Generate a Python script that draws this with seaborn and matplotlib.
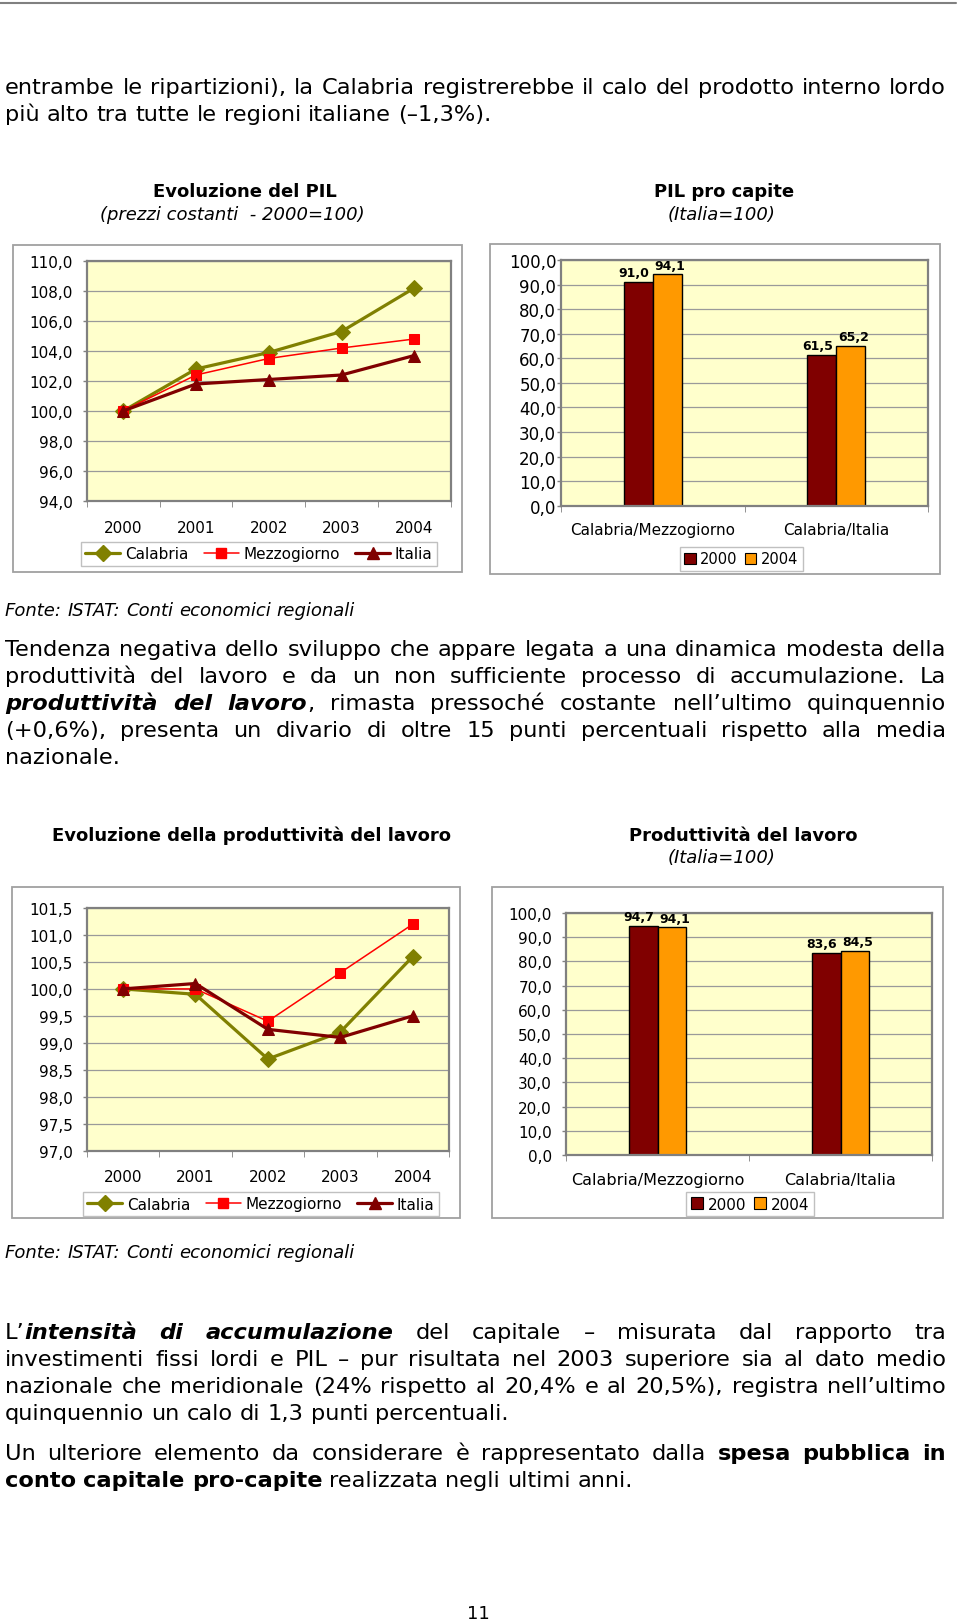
"""Pagina del rapporto: PIL e produttività del lavoro in Calabria."""

import matplotlib
matplotlib.use("Agg")
import matplotlib.pyplot as plt
import pandas as pd
import seaborn as sns
from matplotlib.lines import Line2D
from matplotlib.patches import Patch, Rectangle
from matplotlib.ticker import FuncFormatter

sns.set_style("white")
plt.rcParams["font.family"] = ["DejaVu Sans"]
plt.rcParams["text.color"] = "black"
plt.rcParams["xtick.color"] = "black"
plt.rcParams["ytick.color"] = "black"

# --- data ---
years = [2000, 2001, 2002, 2003, 2004]
pil_calabria = [100.0, 102.8, 103.9, 105.3, 108.2]
pil_mezzogiorno = [100.0, 102.4, 103.5, 104.2, 104.8]
pil_italia = [100.0, 101.8, 102.1, 102.4, 103.7]

prod_calabria = [100.0, 99.9, 98.7, 99.2, 100.6]
prod_mezzogiorno = [100.0, 100.0, 99.4, 100.3, 101.2]
prod_italia = [100.0, 100.1, 99.25, 99.1, 99.5]

ratios = ["Calabria/Mezzogiorno", "Calabria/Italia"]
bar_years = ["2000", "2004"]
pil_pc_2000 = [91.0, 61.5]
pil_pc_2004 = [94.1, 65.2]
prod_lav_2000 = [94.7, 83.6]
prod_lav_2004 = [94.1, 84.5]

pil_ticks = [94, 96, 98, 100, 102, 104, 106, 108, 110]
prod_ticks = [97.0, 97.5, 98.0, 98.5, 99.0, 99.5, 100.0, 100.5, 101.0, 101.5]
pct_ticks = [0, 10, 20, 30, 40, 50, 60, 70, 80, 90, 100]

SERIES = {
    "Calabria": dict(color="#808000", marker="D", ms=8.5, lw=2.3),
    "Mezzogiorno": dict(color="#FF0000", marker="s", ms=7.5, lw=1.1),
    "Italia": dict(color="#800000", marker="^", ms=9, lw=2.3),
}
BAR_COLORS = {"2000": "#800000", "2004": "#FF9900"}
BG = "#FFFFCC"
BODY = 16.2

W, H = 960, 1624
fig = plt.figure(figsize=(W / 100, H / 100), dpi=100)
renderer = fig.canvas.get_renderer()


def fx(x):
    return x / W


def fy(y):
    return 1 - y / H


def px_rect(x0, y0, x1, y1):
    return [fx(x0), fy(y1), (x1 - x0) / W, (y1 - y0) / H]


def comma(v, _=None):
    return f"{v:.1f}".replace(".", ",")


def frame(x0, y0, x1, y1):
    fig.add_artist(Rectangle((fx(x0), fy(y1)), (x1 - x0) / W, (y1 - y0) / H,
                             transform=fig.transFigure, fill=False,
                             edgecolor="#a0a0a0", lw=1.3))


def style_axes(ax, ylab_size, ypad):
    ax.set_facecolor(BG)
    for sp in ax.spines.values():
        sp.set_color("#808080")
        sp.set_linewidth(1.6)
    ax.yaxis.grid(True, color="#9a9a9a", lw=0.9)
    ax.set_axisbelow(True)
    ax.yaxis.set_major_formatter(FuncFormatter(comma))
    ax.tick_params(axis="y", left=True, length=3, width=1, color="#808080",
                   labelcolor="black", pad=ypad, labelsize=ylab_size)
    ax.set_xlabel("")
    ax.set_ylabel("")


def line_chart(plot_box, series, yticks, legend_xy, xpad):
    ax = fig.add_axes(px_rect(*plot_box))
    for name, vals in series.items():
        st = SERIES[name]
        sns.lineplot(x=years, y=vals, ax=ax, color=st["color"], marker=st["marker"],
                     markersize=st["ms"], linewidth=st["lw"],
                     markeredgecolor=st["color"], legend=False)
    ax.set_xlim(years[0] - 0.5, years[-1] + 0.5)
    ax.set_ylim(yticks[0], yticks[-1])
    ax.set_yticks(yticks)
    ax.set_xticks(years, [str(y) for y in years])
    ax.set_xticks([y - 0.5 for y in years] + [years[-1] + 0.5], minor=True)
    style_axes(ax, 11, 7)
    ax.tick_params(axis="x", which="major", length=0, pad=xpad, labelsize=11, labelcolor="black")
    ax.tick_params(axis="x", which="minor", bottom=True, length=4, color="#808080")
    handles = [Line2D([], [], color=SERIES[n]["color"], marker=SERIES[n]["marker"],
                      markersize=SERIES[n]["ms"], lw=SERIES[n]["lw"], label=n)
               for n in series]
    leg = fig.legend(handles=handles, loc="center", bbox_to_anchor=(fx(legend_xy[0]), fy(legend_xy[1])),
                     ncol=3, fontsize=11, frameon=True, fancybox=False, framealpha=1,
                     edgecolor="#c0c0c0", handlelength=2.3, handletextpad=0.3,
                     columnspacing=1.0, borderpad=0.3, labelcolor="black")
    leg.get_frame().set_linewidth(1)
    return ax


def bar_chart(plot_box, v2000, v2004, legend_xy, ylab_size, ypad, xlab_size, leg_size):
    ax = fig.add_axes(px_rect(*plot_box))
    df = pd.DataFrame({
        "rapporto": ratios * 2,
        "anno": [bar_years[0]] * len(ratios) + [bar_years[1]] * len(ratios),
        "valore": v2000 + v2004,
    })
    sns.barplot(data=df, x="rapporto", y="valore", hue="anno", palette=BAR_COLORS,
                width=0.315, edgecolor="black", linewidth=1, saturation=1,
                errorbar=None, legend=False, ax=ax)
    for cont, dx in zip(ax.containers, [-3, 2]):
        for bar, v in zip(cont, cont.datavalues):
            ax.annotate(comma(v), (bar.get_x() + bar.get_width() / 2, bar.get_height()),
                        xytext=(dx, 2), textcoords="offset points", ha="center", va="bottom",
                        fontsize=9, fontweight="bold", color="black")
    ax.set_xlim(-0.5, len(ratios) - 0.5)
    ax.set_ylim(pct_ticks[0], pct_ticks[-1])
    ax.set_yticks(pct_ticks)
    ax.set_xticks([i - 0.5 for i in range(len(ratios) + 1)], minor=True)
    style_axes(ax, ylab_size, ypad)
    ax.tick_params(axis="x", which="major", length=0, pad=12, labelsize=xlab_size, labelcolor="black")
    ax.tick_params(axis="x", which="minor", bottom=True, length=4, color="#808080")
    handles = [Patch(facecolor=BAR_COLORS[y], edgecolor="black", lw=0.8, label=y) for y in bar_years]
    leg = fig.legend(handles=handles, loc="center", bbox_to_anchor=(fx(legend_xy[0]), fy(legend_xy[1])),
                     ncol=2, fontsize=leg_size, frameon=True, fancybox=False, framealpha=1,
                     edgecolor="#c0c0c0", handlelength=0.8, handleheight=0.8,
                     handletextpad=0.3, columnspacing=0.5, borderpad=0.3, labelcolor="black")
    leg.get_frame().set_linewidth(1)
    return ax


# --- justified body text ---
STYLES = {"r": {}, "b": dict(fontweight="bold"), "i": dict(fontstyle="italic"),
          "bi": dict(fontweight="bold", fontstyle="italic")}


def measure(s, style, size):
    t = fig.text(0, 0, s, fontsize=size, **STYLES[style])
    w = t.get_window_extent(renderer=renderer).width
    t.remove()
    return w


def tokenize(segments):
    words = [[]]
    for text, style in segments:
        for i, part in enumerate(text.split(" ")):
            if i > 0:
                words.append([])
            if part:
                words[-1].append((part, style))
    return [w for w in words if w]


def text_line(segments, yc, justify=True, size=BODY, x0=5, x1=946):
    words = tokenize(segments)
    widths = [sum(measure(p, s, size) for p, s in w) for w in words]
    space = measure("a a", "r", size) - measure("aa", "r", size)
    gap = (x1 - x0 - sum(widths)) / (len(words) - 1) if justify and len(words) > 1 else space
    base = yc + 0.36 * size * 100 / 72
    x = x0
    for w, wd in zip(words, widths):
        xx = x
        for p, s in w:
            fig.text(fx(xx), fy(base), p, fontsize=size, ha="left", va="baseline",
                     color="black", **STYLES[s])
            xx += measure(p, s, size)
        x += wd + gap


fig.add_artist(Line2D([0, fx(956)], [fy(4), fy(4)], transform=fig.transFigure,
                      color="#808080", lw=1.5))

text_line([("entrambe le ripartizioni), la Calabria registrerebbe il calo del prodotto interno lordo", "r")], 86)
text_line([("più alto tra tutte le regioni italiane (–1,3%).", "r")], 113, justify=False)

# --- top charts ---
fig.text(fx(245), fy(192), "Evoluzione del PIL", fontsize=13, fontweight="bold", ha="center", va="center")
fig.text(fx(232), fy(215), "(prezzi costanti  - 2000=100)", fontsize=13, fontstyle="italic",
         ha="center", va="center")
fig.text(fx(724), fy(192), "PIL pro capite", fontsize=13, fontweight="bold", ha="center", va="center")
fig.text(fx(722), fy(215), "(Italia=100)", fontsize=13, fontstyle="italic", ha="center", va="center")

frame(12.7, 246, 462, 573)
line_chart((86.7, 262, 450.7, 502),
           {"Calabria": pil_calabria, "Mezzogiorno": pil_mezzogiorno, "Italia": pil_italia},
           pil_ticks, (259, 555), 13.5)

frame(490, 245, 940, 575)
bar_chart((561, 261, 928, 506.7), pil_pc_2000, pil_pc_2004, (741, 560), 12, 0.5, 11, 10.5)

text_line([("Fonte: ISTAT: Conti economici regionali", "i")], 610, justify=False, size=13)

text_line([("Tendenza negativa dello sviluppo che appare legata a una dinamica modesta della", "r")], 648)
text_line([("produttività del lavoro e da un non sufficiente processo di accumulazione. La", "r")], 675)
text_line([("produttività del lavoro", "bi"),
           (", rimasta pressoché costante nell’ultimo quinquennio", "r")], 702)
text_line([("(+0,6%), presenta un divario di oltre 15 punti percentuali rispetto alla media", "r")], 729)
text_line([("nazionale.", "r")], 756, justify=False)

# --- bottom charts ---
fig.text(fx(251), fy(836), "Evoluzione della produttività del lavoro", fontsize=13, fontweight="bold",
         ha="center", va="center")
fig.text(fx(743), fy(836), "Produttività del lavoro", fontsize=13, fontweight="bold",
         ha="center", va="center")
fig.text(fx(722), fy(858), "(Italia=100)", fontsize=13, fontstyle="italic", ha="center", va="center")

frame(11.7, 888, 460, 1219)
line_chart((86.7, 909, 449, 1151.7),
           {"Calabria": prod_calabria, "Mezzogiorno": prod_mezzogiorno, "Italia": prod_italia},
           prod_ticks, (261, 1205), 13)

frame(491.7, 888, 943, 1219)
bar_chart((566, 914, 932, 1156), prod_lav_2000, prod_lav_2004, (750, 1205), 11, 7, 11.5, 11)

text_line([("Fonte: ISTAT: Conti economici regionali", "i")], 1252, justify=False, size=13)

text_line([("L’", "r"), ("intensità di accumulazione", "bi"),
           (" del capitale – misurata dal rapporto tra", "r")], 1331)
text_line([("investimenti fissi lordi e PIL – pur risultata nel 2003 superiore sia al dato medio", "r")], 1358)
text_line([("nazionale che meridionale (24% rispetto al 20,4% e al 20,5%), registra nell’ultimo", "r")], 1385)
text_line([("quinquennio un calo di 1,3 punti percentuali.", "r")], 1412, justify=False)

text_line([("Un ulteriore elemento da considerare è rappresentato dalla ", "r"),
           ("spesa pubblica in", "b")], 1452)
text_line([("conto capitale pro-capite", "b"), (" realizzata negli ultimi anni.", "r")], 1479, justify=False)

fig.text(fx(478), fy(1614), "11", fontsize=13, ha="center", va="center")

fig.savefig("out.png", dpi=100)
plt.close(fig)
